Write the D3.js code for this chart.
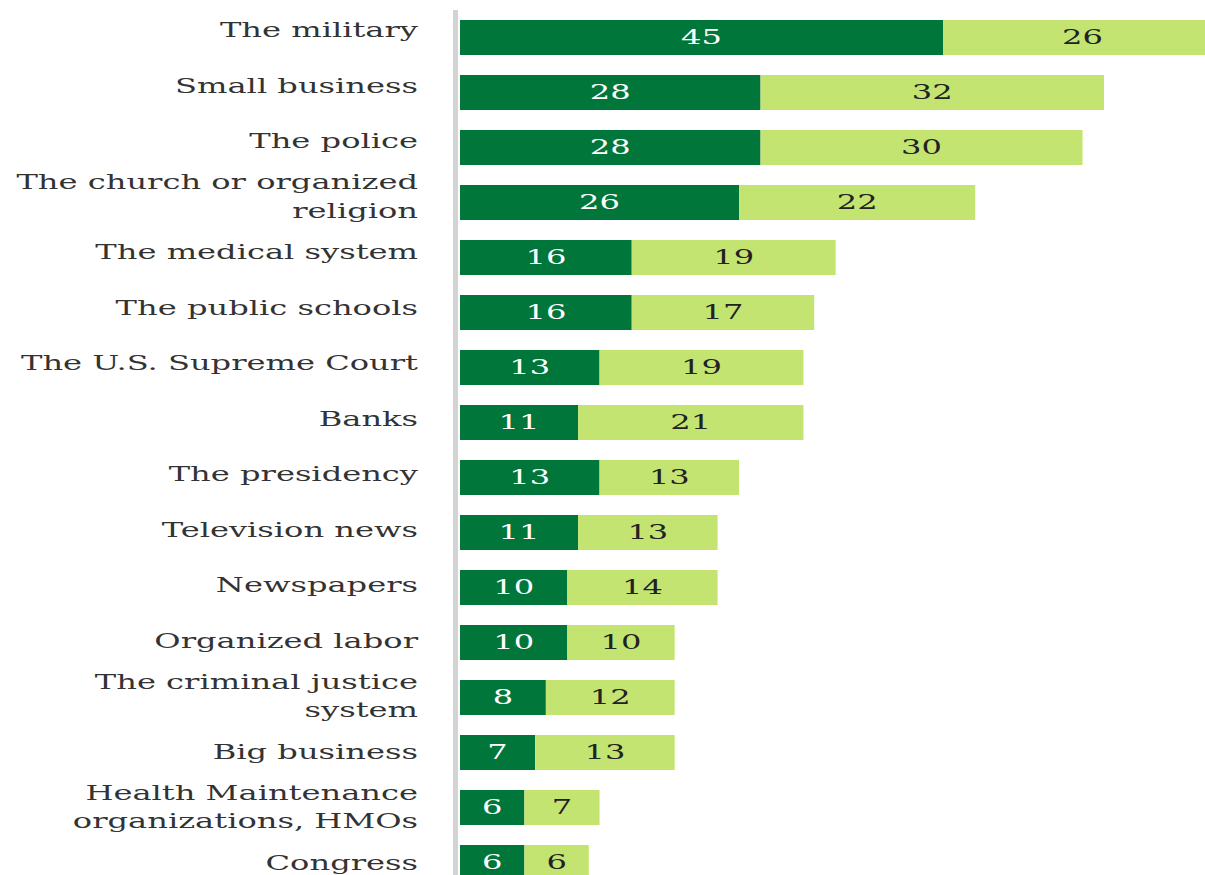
<!DOCTYPE html>
<html>
<head>
<meta charset="utf-8">
<script src="https://cdn.jsdelivr.net/npm/d3@7"></script>
<style>
  html, body { margin: 0; padding: 0; background: #fff; }
  svg { display: block; }
</style>
</head>
<body>
<svg id="chart" width="1205" height="875"></svg>
<script>
const categories = [
  ["The military"],
  ["Small business"],
  ["The police"],
  ["The church or organized", "religion"],
  ["The medical system"],
  ["The public schools"],
  ["The U.S. Supreme Court"],
  ["Banks"],
  ["The presidency"],
  ["Television news"],
  ["Newspapers"],
  ["Organized labor"],
  ["The criminal justice", "system"],
  ["Big business"],
  ["Health Maintenance", "organizations, HMOs"],
  ["Congress"]
];
const greatDeal = [45, 28, 28, 26, 16, 16, 13, 11, 13, 11, 10, 10, 8, 7, 6, 6];
const quiteALot = [26, 32, 30, 22, 19, 17, 19, 21, 13, 13, 14, 10, 12, 13, 7, 6];

const W = 1205, H = 875;
const SX = 1.53;           // horizontal stretch of the text
const FONT = "'DejaVu Serif', 'Liberation Serif', serif";
const DARK = "#00763a", LIGHT = "#c4e472";

const svg = d3.select("#chart");
const keys = categories.map(c => c.join(" "));

const x = d3.scaleLinear().domain([0, 45]).range([460, 943]);
const y = d3.scaleBand().domain(keys).range([20, 880]).paddingInner(20 / 55).paddingOuter(0);
const yLab = d3.scalePoint().domain(keys).range([30, 862.5]);

// axis line
svg.append("line")
  .attr("x1", 455.5).attr("x2", 455.5)
  .attr("y1", 10).attr("y2", H)
  .attr("stroke", "#d3d3d3").attr("stroke-width", 5);

const rows = keys.map((k, i) => ({ key: k, lines: categories[i], a: greatDeal[i], b: quiteALot[i] }));

const g = svg.append("g");
// dark segments
g.selectAll("rect.a").data(rows).join("rect")
  .attr("class", "a")
  .attr("x", x(0)).attr("y", d => y(d.key))
  .attr("width", d => x(d.a) - x(0)).attr("height", y.bandwidth())
  .attr("fill", DARK);
// light segments
g.selectAll("rect.b").data(rows).join("rect")
  .attr("class", "b")
  .attr("x", d => x(d.a)).attr("y", d => y(d.key))
  .attr("width", d => x(d.a + d.b) - x(d.a)).attr("height", y.bandwidth())
  .attr("fill", LIGHT);

function stretchedText(sel, fx, fy) {
  sel.attr("transform", d => `translate(${fx(d)},${fy(d)}) scale(${SX},1)`);
}

// value labels
g.selectAll("text.va").data(rows).join("text")
  .attr("class", "va")
  .call(stretchedText, d => (x(0) + x(d.a)) / 2, d => y(d.key) + y.bandwidth() / 2 + 6)
  .attr("text-anchor", "middle")
  .attr("font-family", FONT).attr("font-size", 21)
  .attr("fill", "#fff")
  .text(d => d.a);
g.selectAll("text.vb").data(rows).join("text")
  .attr("class", "vb")
  .call(stretchedText, d => (x(d.a) + x(d.a + d.b)) / 2, d => y(d.key) + y.bandwidth() / 2 + 6)
  .attr("text-anchor", "middle")
  .attr("font-family", FONT).attr("font-size", 21)
  .attr("fill", "#222")
  .text(d => d.b);

// category labels
const lab = svg.append("g").selectAll("text.cat").data(rows).join("text")
  .attr("class", "cat")
  .call(stretchedText, () => 418, d => yLab(d.key))
  .attr("text-anchor", "end")
  .attr("font-family", FONT).attr("font-size", 21)
  .attr("fill", "#333");
lab.each(function(d) {
  const t = d3.select(this);
  const n = d.lines.length;
  d.lines.forEach((line, j) => {
    t.append("tspan")
      .attr("x", 0)
      .attr("y", (j - (n - 1) / 2) * 29 + 7)
      .text(line);
  });
});
</script>
</body>
</html>
